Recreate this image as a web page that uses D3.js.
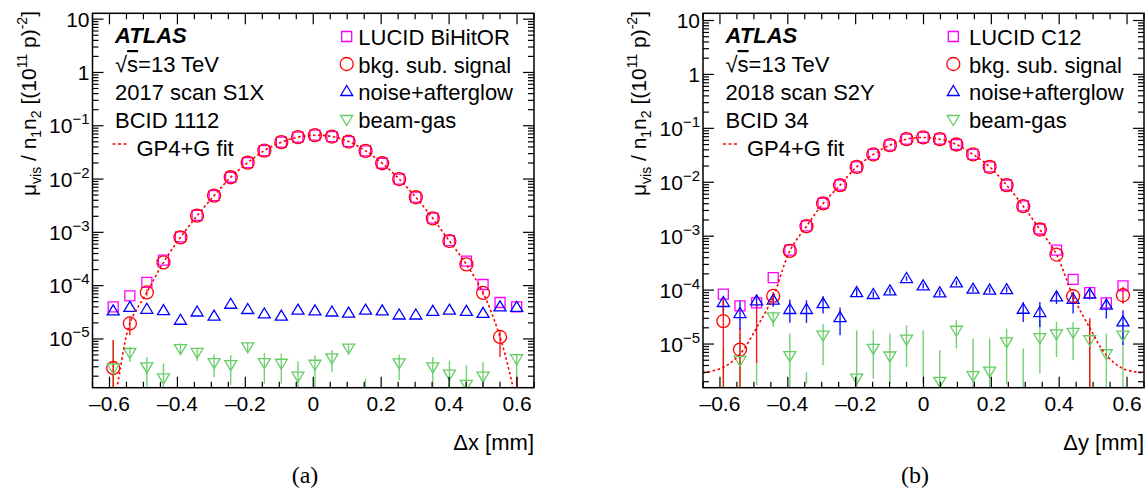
<!DOCTYPE html>
<html><head><meta charset="utf-8">
<script src="https://cdn.jsdelivr.net/npm/d3@7"></script>
<style>
body{margin:0;background:#fff}
svg{display:block}
text{font-family:"Liberation Sans",Arial,Helvetica,sans-serif;fill:#000}
</style>
</head><body>
<svg id="chart" width="1148" height="488"></svg>
<script>
// ---------------- DATA ----------------
const xTicks = [-0.6, -0.4, -0.2, 0, 0.2, 0.4, 0.6];
const xTickLabels = ["\u20130.6", "\u20130.4", "\u20130.2", "0", "0.2", "0.4", "0.6"];
const yTickExps = [-5, -4, -3, -2, -1, 0, 1];

// Panel (a): 2017 scan S1X, BCID 1112
const xA = [-0.589, -0.540, -0.490, -0.441, -0.391, -0.342, -0.292, -0.243, -0.193, -0.144, -0.094, -0.045, 0.005, 0.055, 0.104, 0.154, 0.203, 0.253, 0.302, 0.352, 0.401, 0.451, 0.500, 0.550, 0.599];
const lucidA = [4.0e-5, 6.45e-5, 1.15e-4, 3.0e-4, 8.2e-4, 2.08e-3, 4.9e-3, 1.08e-2, 2.03e-2, 3.42e-2, 4.92e-2, 6.11e-2, 6.65e-2, 6.27e-2, 5.05e-2, 3.37e-2, 1.98e-2, 1.0e-2, 4.58e-3, 1.85e-3, 7.0e-4, 2.88e-4, 1.05e-4, 4.83e-5, 4.0e-5];
const signalA = [2.85e-6, 1.95e-5, 7.45e-5, 2.73e-4, 8.05e-4, 2.05e-3, 4.88e-3, 1.08e-2, 2.03e-2, 3.42e-2, 4.92e-2, 6.11e-2, 6.65e-2, 6.27e-2, 5.05e-2, 3.37e-2, 1.98e-2, 1.0e-2, 4.55e-3, 1.83e-3, 6.86e-4, 2.5e-4, 7.33e-5, 1.09e-5, null];
const signalALo = [1e-9, 1.17e-5, 6.5e-5, null, null, null, null, null, null, null, null, null, null, null, null, null, null, null, null, null, null, null, 6.6e-5, 4.6e-6, 1e-9];
const signalAHi = [9.5e-6, 2.6e-5, 8.5e-5, null, null, null, null, null, null, null, null, null, null, null, null, null, null, null, null, null, null, null, 8.1e-5, 1.46e-5, 1.95e-6];
const noiseA = [3.37e-5, 3.9e-5, 3.6e-5, 3.4e-5, 2.24e-5, 3.2e-5, 2.68e-5, 4.47e-5, 3.57e-5, 2.94e-5, 2.68e-5, 3.46e-5, 3.37e-5, 3.2e-5, 3.06e-5, 3.46e-5, 3.37e-5, 2.81e-5, 2.81e-5, 3.3e-5, 3.46e-5, 3.3e-5, 3.02e-5, 4.0e-5, 3.9e-5];
const beamA = [2.85e-6, 5.56e-6, 2.98e-6, 1.86e-6, 6.6e-6, 5.6e-6, 3.6e-6, 3.3e-6, 7.1e-6, 3.6e-6, 3.5e-6, 2.0e-6, 3.35e-6, 4.4e-6, 6.75e-6, null, null, 3.55e-6, null, 2.98e-6, 2.18e-6, 1.4e-6, 2.0e-6, null, 4.25e-6];
const beamALo = [1e-9, 3.7e-6, 1e-9, 1e-9, 5.3e-6, 3.9e-6, 1.94e-6, 1.35e-6, 5.9e-6, 1.45e-6, 1.45e-6, 1e-9, 1e-9, 2.4e-6, 5.7e-6, 1e-9, null, 1.67e-6, null, 1e-9, 1e-9, 1e-9, 1e-9, null, 1e-9];
const beamAHi = [9.4e-6, 7.1e-6, 4.6e-6, 3.45e-6, 8.2e-6, 6.6e-6, 5.1e-6, 4.94e-6, 8.4e-6, 5.46e-6, 5.3e-6, 3.8e-6, 4.94e-6, 6.1e-6, 7.9e-6, 1.8e-6, null, 5.1e-6, null, 4.6e-6, 3.9e-6, 3.2e-6, 3.7e-6, null, 4.94e-6];
const fitAx = [-0.597, -0.579, -0.540, -0.490, -0.441, -0.391, -0.342, -0.292, -0.243, -0.193, -0.144, -0.094, -0.045, 0.005, 0.055, 0.104, 0.154, 0.203, 0.253, 0.302, 0.352, 0.401, 0.451, 0.500, 0.550, 0.589, 0.607];
const fitAy = [5e-7, 1.2e-6, 1.95e-5, 7.45e-5, 2.73e-4, 8.05e-4, 2.05e-3, 4.88e-3, 1.08e-2, 2.03e-2, 3.42e-2, 4.92e-2, 6.11e-2, 6.65e-2, 6.27e-2, 5.05e-2, 3.37e-2, 1.98e-2, 1.0e-2, 4.55e-3, 1.83e-3, 6.86e-4, 2.5e-4, 7.33e-5, 1.09e-5, 1.2e-6, 4e-7];

// Panel (b): 2018 scan S2Y, BCID 34
const xB = [-0.590, -0.541, -0.492, -0.443, -0.394, -0.345, -0.296, -0.246, -0.197, -0.148, -0.099, -0.050, -0.001, 0.048, 0.097, 0.146, 0.195, 0.245, 0.294, 0.343, 0.392, 0.441, 0.490, 0.539, 0.588];
const lucidB = [8.4e-5, 5.1e-5, 5.8e-5, 1.71e-4, 5.5e-4, 1.55e-3, 4.08e-3, 8.9e-3, 1.93e-2, 3.28e-2, 4.88e-2, 6.3e-2, 6.78e-2, 6.3e-2, 5.02e-2, 3.28e-2, 1.93e-2, 8.9e-3, 3.65e-3, 1.36e-3, 5.5e-4, 1.58e-4, 9.0e-5, 5.8e-5, 1.2e-4];
const signalB = [2.65e-5, 7.9e-6, null, 7.8e-5, 5.34e-4, 1.53e-3, 4.05e-3, 8.83e-3, 1.93e-2, 3.28e-2, 4.88e-2, 6.3e-2, 6.78e-2, 6.3e-2, 5.02e-2, 3.28e-2, 1.93e-2, 8.83e-3, 3.6e-3, 1.33e-3, 4.57e-4, 7.7e-5, null, null, 8.03e-5];
const signalBLo = [1e-9, 1e-9, 4.4e-6, 6.5e-5, null, null, null, null, null, null, null, null, null, null, null, null, null, null, null, null, null, 6.5e-5, 1e-9, null, 5.6e-5];
const signalBHi = [7.5e-5, 2.0e-5, 5.6e-5, 9.2e-5, null, null, null, null, null, null, null, null, null, null, null, null, null, null, null, null, null, 9.0e-5, 3.0e-5, null, 1.15e-4];
const noiseB = [5.89e-5, 3.68e-5, 6.3e-5, 6.5e-5, 4.37e-5, 4.37e-5, 5.63e-5, 3.09e-5, 9.0e-5, 8.3e-5, 9.66e-5, 1.64e-4, 1.2e-4, 8.9e-5, 1.36e-4, 1.04e-4, 1.0e-4, 1.02e-4, 4.42e-5, 3.84e-5, 7.48e-5, 6.76e-5, 8.4e-5, 5.25e-5, 2.57e-5];
const noiseBLo = [3.68e-5, 1.8e-5, 4.56e-5, 4.9e-5, 2.47e-5, 2.47e-5, 3.68e-5, 1.46e-5, 7.5e-5, 7.3e-5, 8.6e-5, 1.48e-4, 1.07e-4, 7.9e-5, 1.22e-4, 9.2e-5, 8.9e-5, 9.0e-5, 2.57e-5, 2.07e-5, 5.5e-5, 3.68e-5, 6.7e-5, 2.97e-5, 9.6e-6];
const noiseBHi = [7.5e-5, 6.5e-5, 8.0e-5, 8.65e-5, 6.7e-5, 6.5e-5, 7.7e-5, 4.75e-5, 1.07e-4, 9.4e-5, 1.08e-4, 1.8e-4, 1.34e-4, 1.0e-4, 1.5e-4, 1.17e-4, 1.12e-4, 1.14e-4, 6.0e-5, 6.0e-5, 9.66e-5, 9.3e-5, 1.0e-4, 7.5e-5, 4.24e-5];
const beamB = [null, 5.0e-6, null, 3.19e-5, 6.1e-6, null, 1.46e-5, null, 2.34e-6, 8.3e-6, 6.0e-6, 1.23e-5, null, 2.03e-6, 1.8e-5, 2.6e-6, 3.14e-6, 1.1e-5, null, 1.31e-5, 1.54e-5, 1.65e-5, 1.2e-5, 6.6e-6, 1.46e-5];
const beamBLo = [1e-9, 1e-9, 1.73e-6, 2.07e-5, 1e-9, 1.85e-6, 4.05e-6, null, 1e-9, 2.29e-6, 1.85e-6, 3.76e-6, 1.85e-6, 1e-9, 8.3e-6, 1e-9, 1e-9, 1.85e-6, 1e-9, 2.84e-6, 5.75e-6, 5.0e-6, 1e-9, 1e-9, 1e-9];
const beamBHi = [8.8e-6, 1.6e-5, 4.35e-6, 3.95e-5, 1.57e-5, 3.0e-6, 2.33e-5, null, 1.8e-5, 1.8e-5, 1.57e-5, 2.23e-5, 1.8e-5, 7.7e-6, 2.77e-5, 1.26e-5, 1.26e-5, 1.94e-5, 8.3e-6, 2.77e-5, 2.57e-5, 2.57e-5, 2.77e-5, 1.57e-5, 2.4e-5];
const fitBx = [-0.65, -0.590, -0.541, -0.492, -0.443, -0.394, -0.345, -0.296, -0.246, -0.197, -0.148, -0.099, -0.050, -0.001, 0.048, 0.097, 0.146, 0.195, 0.245, 0.294, 0.343, 0.392, 0.441, 0.490, 0.539, 0.588, 0.65];
const fitBy = [2.9e-6, 3.7e-6, 6.5e-6, 2.0e-5, 7.6e-5, 5.34e-4, 1.53e-3, 4.05e-3, 8.83e-3, 1.93e-2, 3.28e-2, 4.88e-2, 6.3e-2, 6.78e-2, 6.3e-2, 5.02e-2, 3.28e-2, 1.93e-2, 8.83e-3, 3.6e-3, 1.33e-3, 4.57e-4, 7.7e-5, 2.0e-5, 6.2e-6, 3.5e-6, 2.9e-6];

const legendA = ["LUCID BiHitOR", "bkg. sub. signal", "noise+afterglow", "beam-gas"];
const legendB = ["LUCID C12", "bkg. sub. signal", "noise+afterglow", "beam-gas"];
const infoA = ["2017 scan S1X", "BCID 1112"];
const infoB = ["2018 scan S2Y", "BCID 34"];

// ---------------- STYLE ----------------
const C = {lucid: "#ff00ff", signal: "#ff0000", noise: "#0000ff", beam: "#66cc66"};
const svg = d3.select("#chart");

function markerPath(type, x, y) {
  if (type === "square") { const s = 5; return `M${x-s},${y-s}h${2*s}v${2*s}h${-2*s}Z`; }
  if (type === "up") { const w = 6, h = 10; return `M${x},${y-h*0.6}L${x+w},${y+h*0.4}L${x-w},${y+h*0.4}Z`; }
  if (type === "down") { const w = 6, h = 10; return `M${x},${y+h*0.6}L${x+w},${y-h*0.4}L${x-w},${y-h*0.4}Z`; }
  return null;
}
function drawMarker(g, type, x, y, color) {
  if (type === "circle") {
    g.append("circle").attr("cx", x).attr("cy", y).attr("r", 6.5)
      .attr("fill", "none").attr("stroke", color).attr("stroke-width", 1.3);
  } else {
    g.append("path").attr("d", markerPath(type, x, y))
      .attr("fill", "none").attr("stroke", color).attr("stroke-width", 1.3);
  }
}

function panel(p) {
  const g = svg.append("g");
  const x = d3.scaleLinear().domain([-0.65, 0.65]).range([p.L, p.R]);
  const y = d3.scaleLog().domain(p.yDom).range([p.B, p.T]);
  const clipId = "clip" + p.id;
  g.append("clipPath").attr("id", clipId).append("rect")
    .attr("x", p.L).attr("y", p.T).attr("width", p.R - p.L).attr("height", p.B - p.T);
  const plot = g.append("g").attr("clip-path", `url(#${clipId})`);

  function bars(xs, lo, hi, color) {
    xs.forEach((xv, i) => {
      if (lo[i] == null || hi[i] == null) return;
      plot.append("line").attr("x1", x(xv)).attr("x2", x(xv))
        .attr("y1", Math.min(y(lo[i]), p.B + 5)).attr("y2", y(hi[i]))
        .attr("stroke", color).attr("stroke-width", 1.4).attr("opacity", 0.9);
    });
  }
  bars(p.x, p.beamLo, p.beamHi, C.beam);
  bars(p.x, p.noiseLo, p.noiseHi, C.noise);
  bars(p.x, p.sigLo, p.sigHi, C.signal);

  const mg = plot.append("g");
  p.x.forEach((xv, i) => { if (p.lucid[i] != null) drawMarker(mg, "square", x(xv), y(p.lucid[i]), C.lucid); });
  p.x.forEach((xv, i) => { if (p.signal[i] != null) drawMarker(mg, "circle", x(xv), y(p.signal[i]), C.signal); });
  p.x.forEach((xv, i) => { if (p.noise[i] != null) drawMarker(mg, "up", x(xv), y(p.noise[i]), C.noise); });
  p.x.forEach((xv, i) => { if (p.beam[i] != null) drawMarker(mg, "down", x(xv), y(p.beam[i]), C.beam); });

  const fitPts = p.fitX.map((v, i) => [x(v), y(p.fitY[i])]);
  plot.append("path").attr("d", d3.line().curve(d3.curveCatmullRom.alpha(0.5))(fitPts))
    .attr("fill", "none").attr("stroke", C.signal).attr("stroke-width", 1.6)
    .attr("stroke-dasharray", "2.5,2.5");

  g.append("rect").attr("x", p.L).attr("y", p.T).attr("width", p.R - p.L).attr("height", p.B - p.T)
    .attr("fill", "none").attr("stroke", "#000").attr("stroke-width", 1.5);

  const minorX = d3.range(-13, 14).map(k => k * 0.05).filter(v => Math.abs(v) <= 0.65 + 1e-9);
  minorX.forEach(v => {
    const major = xTicks.some(t => Math.abs(t - v) < 1e-6);
    const len = major ? 11 : 6;
    g.append("line").attr("x1", x(v)).attr("x2", x(v)).attr("y1", p.B).attr("y2", p.B - len).attr("stroke", "#000").attr("stroke-width", 1.2);
    g.append("line").attr("x1", x(v)).attr("x2", x(v)).attr("y1", p.T).attr("y2", p.T + len).attr("stroke", "#000").attr("stroke-width", 1.2);
  });
  xTicks.forEach((t, i) => {
    g.append("text").attr("x", x(t)).attr("y", p.B + 23).attr("text-anchor", "middle")
      .attr("font-size", 21).text(xTickLabels[i]);
  });

  const lo = Math.floor(Math.log10(p.yDom[0])), hi = Math.ceil(Math.log10(p.yDom[1]));
  for (let e = lo; e <= hi; e++) {
    for (let k = 1; k <= 9; k++) {
      const v = k * Math.pow(10, e);
      if (v < p.yDom[0] || v > p.yDom[1]) continue;
      const len = k === 1 ? 11 : 6;
      g.append("line").attr("x1", p.L).attr("x2", p.L + len).attr("y1", y(v)).attr("y2", y(v)).attr("stroke", "#000").attr("stroke-width", 1.2);
      g.append("line").attr("x1", p.R).attr("x2", p.R - len).attr("y1", y(v)).attr("y2", y(v)).attr("stroke", "#000").attr("stroke-width", 1.2);
    }
  }
  yTickExps.forEach(e => {
    const t = g.append("text").attr("x", p.L - 3).attr("y", y(Math.pow(10, e)) + 7.5)
      .attr("text-anchor", "end").attr("font-size", 21);
    if (e === 0) t.text("1");
    else if (e === 1) t.text("10");
    else {
      t.append("tspan").text("10");
      t.append("tspan").attr("font-size", 15).attr("dy", -9).text("\u2212" + (-e));
    }
  });

  const yt = g.append("text").attr("transform", `translate(${p.L - 57},11) rotate(-90)`)
    .attr("text-anchor", "end").attr("font-size", 21);
  yt.append("tspan").text("\u03bc");
  yt.append("tspan").attr("font-size", 14).attr("dy", 5).text("vis");
  yt.append("tspan").attr("dy", -5).text(" / n");
  yt.append("tspan").attr("font-size", 14).attr("dy", 5).text("1");
  yt.append("tspan").attr("dy", -5).text("n");
  yt.append("tspan").attr("font-size", 14).attr("dy", 5).text("2");
  yt.append("tspan").attr("dy", -5).text(" [(10");
  yt.append("tspan").attr("font-size", 14).attr("dy", -9).text("11");
  yt.append("tspan").attr("dy", 9).text(" p)");
  yt.append("tspan").attr("font-size", 14).attr("dy", -9).text("-2");
  yt.append("tspan").attr("dy", 9).text("]");

  g.append("text").attr("x", p.R).attr("y", p.B + 62).attr("text-anchor", "end")
    .attr("font-size", 22).text(p.xTitle);
  g.append("text").attr("x", p.labelX).attr("y", 483).attr("text-anchor", "middle")
    .attr("font-size", 24).style("font-family", "'Liberation Serif','Times New Roman',serif").text(p.label);

  const tx = p.L + 22.5;
  g.append("text").attr("x", tx).attr("y", 43).attr("font-size", 22).attr("font-weight", "bold")
    .attr("font-style", "italic").text("ATLAS");
  const s = g.append("text").attr("x", tx).attr("y", 72).attr("font-size", 22);
  s.append("tspan").text("\u221a");
  s.append("tspan").style("text-decoration", "overline").text("s");
  s.append("tspan").text("=13 TeV");
  g.append("text").attr("x", tx).attr("y", 100).attr("font-size", 22).text(p.info[0]);
  g.append("text").attr("x", tx).attr("y", 128).attr("font-size", 22).text(p.info[1]);
  g.append("line").attr("x1", p.L + 20).attr("x2", p.L + 36).attr("y1", 144).attr("y2", 144)
    .attr("stroke", C.signal).attr("stroke-width", 1.6).attr("stroke-dasharray", "3,2.5");
  g.append("text").attr("x", p.L + 44).attr("y", 155.5).attr("font-size", 22).text("GP4+G fit");

  const types = ["square", "circle", "up", "down"];
  const cols = [C.lucid, C.signal, C.noise, C.beam];
  const rows = [45, 72.5, 100, 128];
  p.legend.forEach((lab, i) => {
    drawMarker(g, types[i], p.legMX, rows[i] - 8.5, cols[i]);
    g.append("text").attr("x", p.legTX).attr("y", rows[i]).attr("font-size", 22).text(lab);
  });
}

panel({id: "A", L: 92.5, R: 534, T: 13.3, B: 387.7, yDom: [1.216e-6, 12.88],
  x: xA, lucid: lucidA, signal: signalA, sigLo: signalALo, sigHi: signalAHi,
  noise: noiseA, noiseLo: noiseA.map(() => null), noiseHi: noiseA.map(() => null),
  beam: beamA, beamLo: beamALo, beamHi: beamAHi, fitX: fitAx, fitY: fitAy,
  xTitle: "\u0394x [mm]", label: "(a)", labelX: 305, info: infoA, legend: legendA,
  legMX: 346.7, legTX: 358.3});
panel({id: "B", L: 703, R: 1144, T: 13.3, B: 387.7, yDom: [1.55e-6, 13.6],
  x: xB, lucid: lucidB, signal: signalB, sigLo: signalBLo, sigHi: signalBHi,
  noise: noiseB, noiseLo: noiseBLo, noiseHi: noiseBHi,
  beam: beamB, beamLo: beamBLo, beamHi: beamBHi, fitX: fitBx, fitY: fitBy,
  xTitle: "\u0394y [mm]", label: "(b)", labelX: 915, info: infoB, legend: legendB,
  legMX: 953.3, legTX: 969});
</script>
</body></html>
